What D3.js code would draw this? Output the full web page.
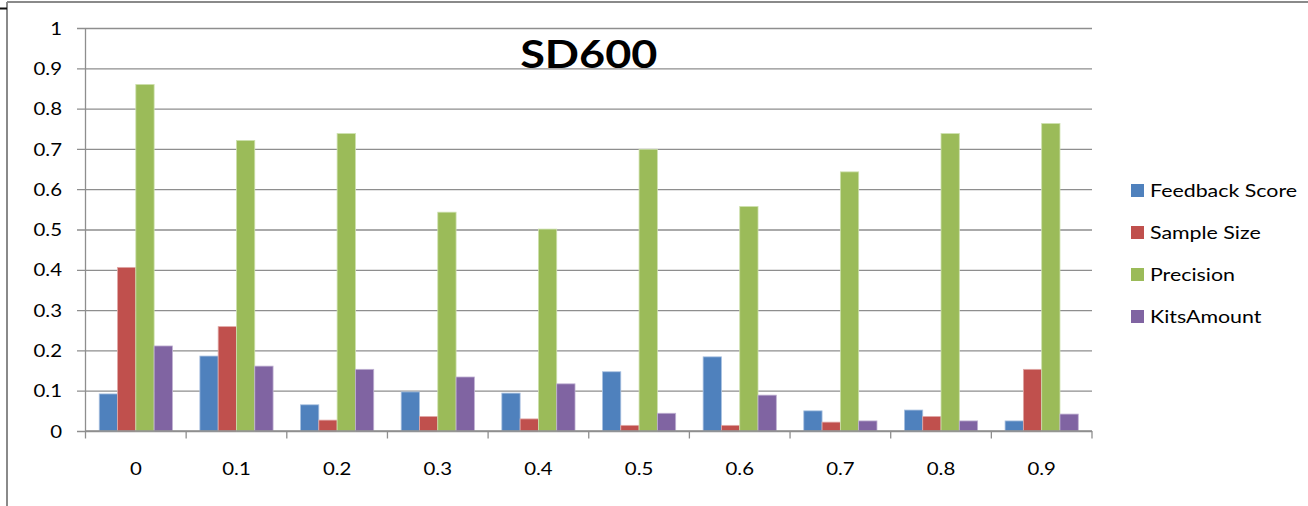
<!DOCTYPE html>
<html>
<head>
<meta charset="utf-8">
<script src="https://cdn.jsdelivr.net/npm/d3@7"></script>
<style>
  html, body { margin: 0; padding: 0; background: #fff; }
  svg { display: block; }
  text { font-family: Lato, "Open Sans", "Liberation Sans", sans-serif; fill: #000; }
</style>
</head>
<body>
<script>
// Threshold values along the x axis
const categories = ["0", "0.1", "0.2", "0.3", "0.4", "0.5", "0.6", "0.7", "0.8", "0.9"];

// Series names, in legend order
const seriesNames = ["Feedback Score", "Sample Size", "Precision", "KitsAmount"];

// Series values per threshold
const feedbackScore = [0.092, 0.186, 0.065, 0.097, 0.094, 0.147, 0.184, 0.050, 0.052, 0.025];
const sampleSize    = [0.406, 0.259, 0.027, 0.036, 0.030, 0.014, 0.014, 0.022, 0.036, 0.153];
const precision     = [0.860, 0.721, 0.738, 0.543, 0.501, 0.699, 0.557, 0.643, 0.738, 0.763];
const kitsAmount    = [0.211, 0.161, 0.153, 0.134, 0.117, 0.044, 0.089, 0.025, 0.025, 0.042];

// Y axis tick values and labels
const yTicks = [0, 0.1, 0.2, 0.3, 0.4, 0.5, 0.6, 0.7, 0.8, 0.9, 1];
const yTickLabels = ["0", "0.1", "0.2", "0.3", "0.4", "0.5", "0.6", "0.7", "0.8", "0.9", "1"];

const titleText = "SD600";

const seriesValues = [feedbackScore, sampleSize, precision, kitsAmount];
const colors = ["#4F81BD", "#C0504D", "#9BBB59", "#8064A2"];
const edgeColors = ["#a9c1e0", "#e0a9a7", "#cde0ad", "#bfb1d2"];

const W = 1308, H = 506;
const plot = { left: 85.5, right: 1092, top: 28, bottom: 431 };
const textStretch = 1.2;   // horizontal widening applied to all labels
const gridColor = "#8e8e8e";

const svg = d3.select("body").append("svg")
  .attr("width", W).attr("height", H);

svg.append("rect").attr("width", W).attr("height", H).attr("fill", "#fff");

// Chart frame (outer border)
svg.append("line").attr("x1", 7).attr("x2", W).attr("y1", 2).attr("y2", 2)
  .attr("stroke", "#8a8a8a").attr("stroke-width", 2);
svg.append("line").attr("x1", 7).attr("x2", 7).attr("y1", 2).attr("y2", H)
  .attr("stroke", "#8a8a8a").attr("stroke-width", 2);
svg.append("line").attr("x1", 0).attr("x2", 7).attr("y1", 8.5).attr("y2", 8.5)
  .attr("stroke", "#111").attr("stroke-width", 2);

// Scales
const x0 = d3.scaleBand().domain(categories).range([plot.left, plot.right])
  .paddingInner(0).paddingOuter(0);
const x1 = d3.scaleBand().domain(seriesNames).range([0, x0.bandwidth()])
  .paddingInner(0).paddingOuter(0.75);
const y = d3.scaleLinear().domain([0, 1]).range([plot.bottom, plot.top]);

// Horizontal gridlines + y axis
const yAxis = d3.axisLeft(y).tickValues(yTicks)
  .tickFormat((d, i) => yTickLabels[i])
  .tickSize(-(plot.right - plot.left)).tickSizeOuter(0);

const yg = svg.append("g").attr("transform", `translate(${plot.left},0)`).call(yAxis);
yg.select(".domain").remove();
yg.selectAll(".tick line")
  .attr("x1", -8.5)
  .attr("stroke", gridColor).attr("stroke-width", 1.3);
yg.selectAll(".tick text")
  .attr("font-size", 17)
  .attr("font-family", "Lato, 'Open Sans', sans-serif")
  .attr("fill", "#000")
  .attr("x", -23.5 / textStretch)
  .attr("dy", "0.36em")
  .attr("transform", `scale(${textStretch},1)`);

// Vertical axis line
svg.append("line")
  .attr("x1", plot.left).attr("x2", plot.left)
  .attr("y1", y(1)).attr("y2", y(0))
  .attr("stroke", gridColor).attr("stroke-width", 1.3);

// Bars
const groups = svg.append("g").selectAll("g")
  .data(categories)
  .join("g")
  .attr("transform", d => `translate(${x0(d)},0)`);

groups.selectAll("rect")
  .data((c, i) => seriesNames.map((s, k) => ({ s, k, v: seriesValues[k][i] })))
  .join("rect")
  .attr("x", d => x1(d.s))
  .attr("width", x1.bandwidth())
  .attr("y", d => y(d.v))
  .attr("height", d => y(0) - y(d.v))
  .attr("fill", d => colors[d.k])
  .attr("stroke", d => edgeColors[d.k])
  .attr("stroke-width", 0.8);

// X axis with ticks at category boundaries
const xg = svg.append("g").attr("transform", `translate(0,${plot.bottom})`);
xg.append("line")
  .attr("x1", plot.left).attr("x2", plot.right)
  .attr("stroke", gridColor).attr("stroke-width", 1.3);
const boundaries = categories.map(c => x0(c)).concat([x0(categories[categories.length - 1]) + x0.bandwidth()]);
xg.selectAll("line.tk")
  .data(boundaries)
  .join("line")
  .attr("class", "tk")
  .attr("x1", d => d).attr("x2", d => d)
  .attr("y1", 0).attr("y2", 7.5)
  .attr("stroke", gridColor).attr("stroke-width", 1.3);

const xAxis = d3.axisBottom(x0).tickSize(0).tickPadding(0);
const xa = svg.append("g").attr("transform", `translate(0,${plot.bottom})`).call(xAxis);
xa.select(".domain").remove();
xa.selectAll(".tick line").remove();
xa.selectAll(".tick text")
  .attr("font-size", 17)
  .attr("font-family", "Lato, 'Open Sans', sans-serif")
  .attr("fill", "#000")
  .attr("y", 44).attr("dy", 0)
  .attr("transform", `scale(${textStretch},1)`);

// Title
svg.append("text")
  .attr("transform", `translate(${(plot.left + plot.right) / 2},68) scale(${textStretch},1)`)
  .attr("text-anchor", "middle")
  .attr("font-size", 37.5)
  .attr("font-weight", 700)
  .text(titleText);

// Legend
const legend = svg.append("g");
const legendRows = legend.selectAll("g")
  .data(seriesNames)
  .join("g")
  .attr("transform", (d, i) => `translate(1131,${197 + i * 42})`);
legendRows.append("rect")
  .attr("x", 0).attr("y", -13).attr("width", 13).attr("height", 13)
  .attr("fill", (d, i) => colors[i]);
legendRows.append("text")
  .attr("transform", `translate(19,0) scale(${textStretch},1)`)
  .attr("font-size", 17.8)
  .text(d => d);
</script>
</body>
</html>
